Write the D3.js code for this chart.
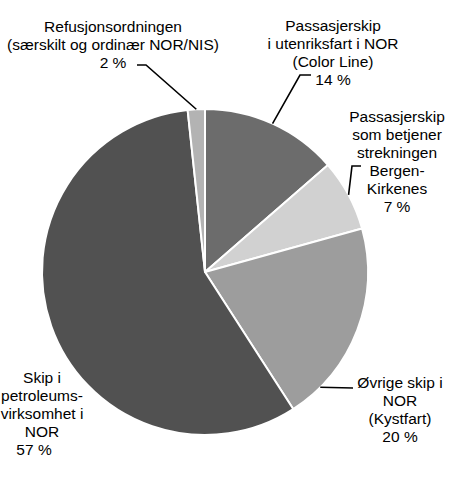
<!DOCTYPE html>
<html>
<head>
<meta charset="utf-8">
<script src="https://cdn.jsdelivr.net/npm/d3@7"></script>
<style>
  body { margin: 0; background: #fff; }
  svg text { font-family: "Liberation Sans", Arial, sans-serif; font-size: 15.5px; fill: #000; }
</style>
</head>
<body>
<svg class="MainSvg"></svg>
<script>
    // shares, clockwise from 12 o'clock
    var categories = ["Passasjerskip i utenriksfart i NOR (Color Line)",
        "Passasjerskip som betjener strekningen Bergen-Kirkenes",
        "Øvrige skip i NOR (Kystfart)",
        "Skip i petroleumsvirksomhet i NOR",
        "Refusjonsordningen (særskilt og ordinær NOR/NIS)"];
    var values = [13.6, 7.1, 20.2, 57.4, 1.7];
    var labelLines = [
        ["Passasjerskip", "i utenriksfart i NOR", "(Color Line)", "14 %"],
        ["Passasjerskip", "som betjener", "strekningen", "Bergen-", "Kirkenes", "7 %"],
        ["Øvrige skip i", "NOR", "(Kystfart)", "20 %"],
        ["Skip i", "petroleums-", "virksomhet i", "NOR", "57 %"],
        ["Refusjonsordningen", "(særskilt og ordinær NOR/NIS)", "2 %"]
    ];
    var colors = ["#6c6c6c", "#d1d1d1", "#9d9d9d", "#515151", "#b3b3b3"];

    var width = 450, height = 482;
    var cx = 205, cy = 272, radius = 163;
    var lineH = 18;

    // label placement: centre x, first baseline, shift of the last (percent) line
    var labelPos = [
        { x: 333, y: 31, lastDx: 0 },
        { x: 397, y: 122, lastDx: 0 },
        { x: 400, y: 388, lastDx: 0 },
        { x: 42, y: 383, lastDx: -8 },
        { x: 113, y: 32, lastDx: 0 }
    ];
    // leader: angle on rim (fraction of turn, null = slice middle), then bend points
    var leaders = [
        { at: null, pts: [[300, 75], [311, 75]] },
        { at: null, pts: [[352, 166], [361, 166]] },
        { at: 0.375, pts: [[353, 388]] },
        null,
        { at: null, pts: [[146, 65], [137, 65]] }
    ];

    var svg = d3.select(".MainSvg")
        .attr("width", width)
        .attr("height", height);

    var pie = d3.pie().sort(null).value(function (d) { return d; });
    var arcs = pie(values);
    var arc = d3.arc().innerRadius(0).outerRadius(radius);

    var g = svg.append("g").attr("transform", "translate(" + cx + "," + cy + ")");
    g.selectAll("path")
        .data(arcs)
        .enter()
        .append("path")
        .attr("d", arc)
        .attr("fill", function (d, i) { return colors[i]; })
        .attr("stroke", "#fff")
        .attr("stroke-width", 2)
        .attr("stroke-linejoin", "round")
        .append("title")
        .text(function (d, i) { return categories[i] + ": " + labelLines[i][labelLines[i].length - 1]; });

    // leader lines
    var line = d3.line();
    arcs.forEach(function (a, i) {
        var l = leaders[i];
        if (!l) return;
        var ang = l.at == null ? (a.startAngle + a.endAngle) / 2 : l.at * 2 * Math.PI;
        var start = [cx + radius * Math.sin(ang), cy - radius * Math.cos(ang)];
        svg.append("path")
            .attr("d", line([start].concat(l.pts)))
            .attr("fill", "none")
            .attr("stroke", "#000")
            .attr("stroke-width", 1.6);
    });

    // labels
    labelLines.forEach(function (lines, i) {
        var p = labelPos[i];
        var t = svg.append("text")
            .attr("text-anchor", "middle")
            .attr("x", p.x)
            .attr("y", p.y);
        lines.forEach(function (s, j) {
            var last = j === lines.length - 1;
            t.append("tspan")
                .attr("x", p.x + (last ? p.lastDx : 0))
                .attr("y", p.y + j * lineH)
                .text(s);
        });
    });
</script>
</body>
</html>
